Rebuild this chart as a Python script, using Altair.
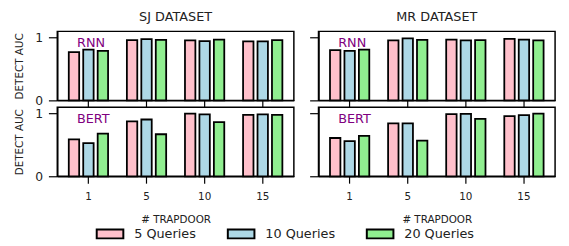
import altair as alt
import pandas as pd

datasets = ["SJ DATASET", "MR DATASET"]
models = ["RNN", "BERT"]
trapdoors = ["1", "5", "10", "15"]
queries = ["5 Queries", "10 Queries", "20 Queries"]
colors = ["#FFC0CB", "#ADD8E6", "#90EE90"]

# values per trapdoor (1, 5, 10, 15)
sj_rnn_5 = [0.77, 0.96, 0.955, 0.94]
sj_rnn_10 = [0.81, 0.975, 0.944, 0.94]
sj_rnn_20 = [0.79, 0.965, 0.97, 0.96]
sj_bert_5 = [0.59, 0.875, 1.0, 0.98]
sj_bert_10 = [0.53, 0.905, 0.985, 0.985]
sj_bert_20 = [0.68, 0.67, 0.865, 0.98]
mr_rnn_5 = [0.80, 0.955, 0.97, 0.98]
mr_rnn_10 = [0.79, 0.99, 0.955, 0.97]
mr_rnn_20 = [0.81, 0.965, 0.96, 0.955]
mr_bert_5 = [0.61, 0.845, 0.99, 0.96]
mr_bert_10 = [0.56, 0.845, 0.995, 0.975]
mr_bert_20 = [0.645, 0.57, 0.915, 1.0]

series = {
    ("SJ DATASET", "RNN"): [sj_rnn_5, sj_rnn_10, sj_rnn_20],
    ("SJ DATASET", "BERT"): [sj_bert_5, sj_bert_10, sj_bert_20],
    ("MR DATASET", "RNN"): [mr_rnn_5, mr_rnn_10, mr_rnn_20],
    ("MR DATASET", "BERT"): [mr_bert_5, mr_bert_10, mr_bert_20],
}

FONT = "DejaVu Sans"
TXT = "#222222"


def panel(ds, model, top, left):
    rows = []
    for q, vals in zip(queries, series[(ds, model)]):
        for t, v in zip(trapdoors, vals):
            rows.append({"trap": t, "queries": q, "value": v})
    df = pd.DataFrame(rows)

    xaxis = alt.Axis(
        labels=not top,
        title=None if top else "# TRAPDOOR",
        tickSize=7,
        labelAngle=0,
        labelFontSize=10.5,
        labelPadding=9,
        titleFontSize=10.5,
        titlePadding=12,
    )
    yaxis = alt.Axis(
        values=[0, 1],
        format="d",
        labels=left,
        title="DETECT AUC" if left else None,
        tickSize=9,
        labelFontSize=12.5,
        labelPadding=6,
        titleFontSize=10.5,
        titlePadding=10,
    )
    bars = alt.Chart(df).mark_bar(stroke="black", strokeWidth=1.8).encode(
        x=alt.X("trap:N", sort=trapdoors,
                scale=alt.Scale(paddingInner=0.254, paddingOuter=0.163),
                axis=xaxis),
        xOffset=alt.XOffset("queries:N", sort=queries,
                            scale=alt.Scale(paddingInner=0.28, paddingOuter=0.14)),
        y=alt.Y("value:Q", scale=alt.Scale(domain=[0, 1.1], nice=False), axis=yaxis),
        color=alt.Color(
            "queries:N",
            sort=queries,
            scale=alt.Scale(domain=queries, range=colors),
            title=None,
            legend=alt.Legend(
                orient="none",
                direction="horizontal",
                columns=3,
                legendX=39,
                legendY=191,
                symbolType="M-1,-0.333H1V0.333H-1Z",
                symbolSize=729,
                symbolStrokeColor="black",
                symbolStrokeWidth=2,
                symbolOpacity=1,
                labelFontSize=13,
                labelFont=FONT,
                labelColor=TXT,
                labelOffset=10,
                columnPadding=28,
            ),
        ),
    )
    label = alt.Chart(pd.DataFrame({"t": [model]})).mark_text(
        align="left", baseline="middle", fontSize=13, font=FONT, color="#800080"
    ).encode(text="t:N", x=alt.value(20), y=alt.value(12))
    ch = alt.layer(bars, label).properties(width=240, height=70)
    if top:
        ch = ch.properties(title=alt.TitleParams(ds, fontSize=13, fontWeight="normal",
                                                 font=FONT, color=TXT, offset=8))
    return ch


charts = [
    panel("SJ DATASET", "RNN", True, True),
    panel("MR DATASET", "RNN", True, False),
    panel("SJ DATASET", "BERT", False, True),
    panel("MR DATASET", "BERT", False, False),
]

chart = alt.concat(*charts, columns=2, spacing={"row": 7, "column": 25}, bounds="flush").properties(
    padding={"left": 6, "top": 0, "right": 5, "bottom": 0}
).configure_view(stroke="black", strokeWidth=1.5).configure_axis(
    grid=False,
    domainColor="black",
    domainWidth=1.5,
    tickColor="black",
    tickWidth=1.2,
    labelFont=FONT,
    titleFont=FONT,
    labelColor=TXT,
    titleColor=TXT,
    titleFontWeight="normal",
)

chart.save("out.html", embed_options={"renderer": "svg", "actions": False})
